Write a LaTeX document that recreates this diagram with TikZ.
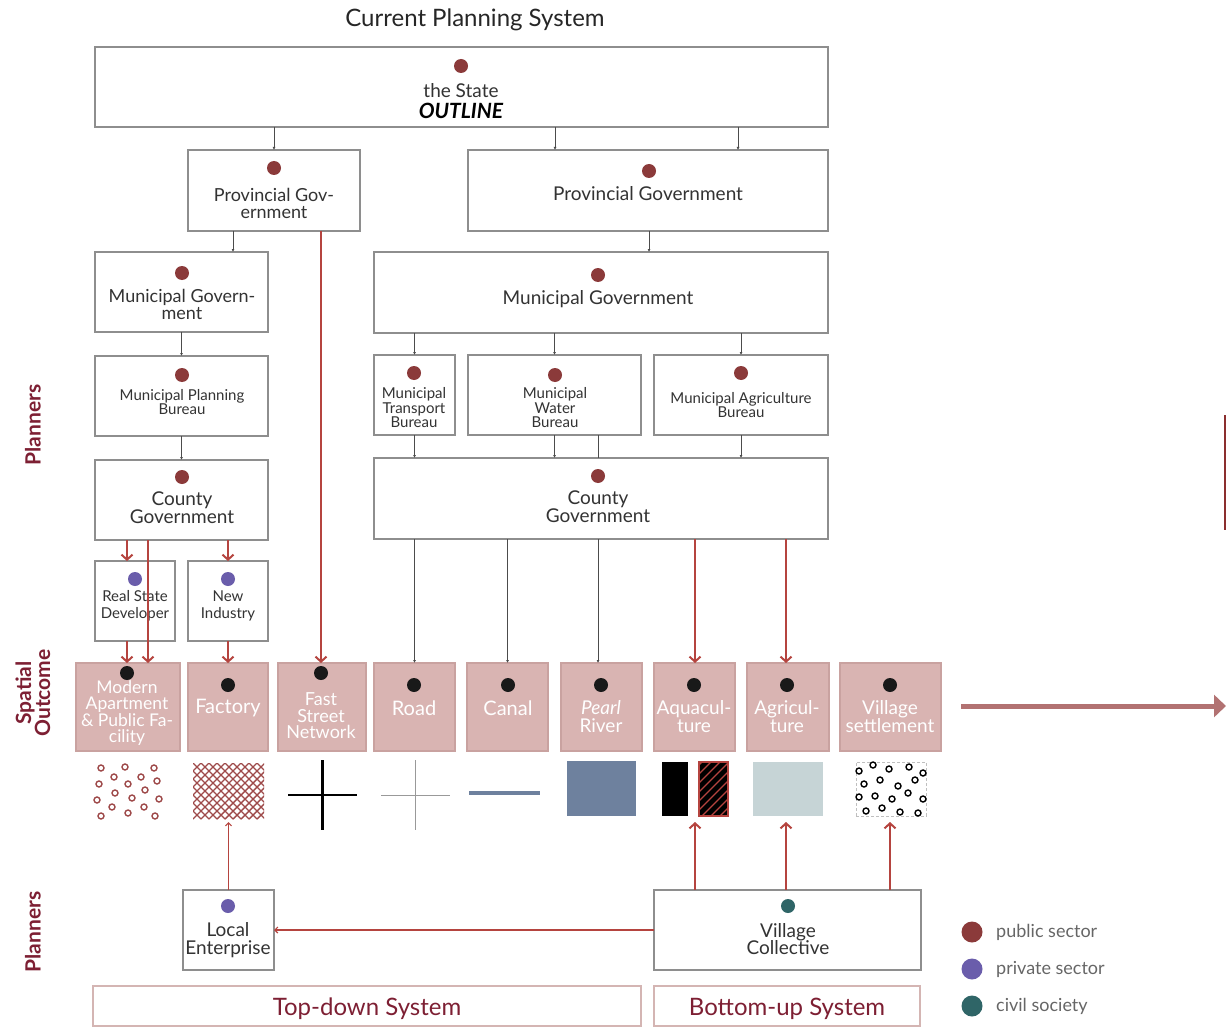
\documentclass[tikz,border=0pt]{standalone}
\usepackage{fontspec}
\setmainfont{Lato}
\usetikzlibrary{arrows.meta}
\definecolor{pubred}{HTML}{8B3A3A}
\definecolor{privpur}{HTML}{6A5DAB}
\definecolor{civteal}{HTML}{2F6567}
\definecolor{arrred}{HTML}{B5443F}
\definecolor{pinkfill}{HTML}{D9B4B2}
\definecolor{pinkdraw}{HTML}{C9A2A0}
\definecolor{boxgray}{HTML}{8E8E8E}
\definecolor{txtgray}{HTML}{333333}
\definecolor{lblred}{HTML}{7D1F33}
\definecolor{legtxt}{HTML}{666666}
\definecolor{riverblue}{HTML}{6E819E}
\definecolor{agrigray}{HTML}{C6D4D6}
\definecolor{bigarrow}{HTML}{B27272}
\definecolor{crossred}{HTML}{9E4A4A}
\definecolor{darkline}{HTML}{8B2E2E}
\newcommand{\fs}[2]{\fontsize{#1}{#2}\selectfont}
\newcommand{\mkbox}[6]{\node[#6, minimum width={(#4-#2)*1pt}, minimum height={(#5-#3)*1pt}] (#1) at ({(#2+#4)/2},{(#3+#5)/2}) {};}
\tikzset{
 box/.style={draw=boxgray, line width=1.1pt, fill=white, inner sep=0pt, outer sep=0pt},
 pinkbox/.style={draw=pinkdraw, line width=1.1pt, fill=pinkfill, inner sep=0pt, outer sep=0pt},
 sysbox/.style={draw=pinkdraw!80, line width=1.1pt, inner sep=0pt, outer sep=0pt},
 area/.style={inner sep=0pt, outer sep=0pt},
 txt/.style={text=txtgray, align=center, inner sep=0pt},
 wtxt/.style={text=white, align=center, inner sep=0pt},
 dot/.style={circle, inner sep=0pt, minimum size=14pt},
 legdot/.style={circle, inner sep=0pt, minimum size=21pt},
 garrow/.style={draw=black!70, line width=0.8pt, -{Latex[length=3pt,width=3pt]}},
 gline/.style={draw=black!70, line width=0.8pt},
 rarrow/.style={draw=arrred, line width=2.2pt, -{Straight Barb[length=5pt,width=11pt,line width=2pt]}},
 rthin/.style={draw=arrred, line width=1.3pt, -{Straight Barb[length=3pt,width=6pt,line width=1.2pt]}},
 sidelbl/.style={rotate=90, text=lblred, align=center, inner sep=0pt, font=\bfseries\fs{21}{19}},
}
\begin{document}
\begin{tikzpicture}[x=1pt,y=-1pt]
\useasboundingbox (0,0) rectangle (1226,1027);
% title
\node[text=black!85, inner sep=0pt, font=\fs{24}{26}] (title) at (475,20) {Current Planning System};
% boxes
\mkbox{state}{95}{47}{828}{127}{box}
\mkbox{provL}{188}{150}{360}{231}{box}
\mkbox{provR}{468}{150}{828}{231}{box}
\mkbox{munL}{95}{252}{268}{332}{box}
\mkbox{munR}{374}{252}{828}{333}{box}
\mkbox{mpb}{95}{356}{268}{436}{box}
\mkbox{mtb}{374}{355}{455}{435}{box}
\mkbox{mwb}{468}{355}{641}{435}{box}
\mkbox{mab}{654}{355}{828}{435}{box}
\mkbox{cntL}{95}{460}{268}{540}{box}
\mkbox{cntR}{374}{458}{828}{539}{box}
\mkbox{rsd}{95}{561}{175}{641}{box}
\mkbox{nin}{188}{561}{268}{641}{box}
\mkbox{modern}{76}{663}{180}{751}{pinkbox}
\mkbox{factory}{188}{663}{268}{751}{pinkbox}
\mkbox{fast}{278}{663}{366}{751}{pinkbox}
\mkbox{road}{374}{663}{455}{751}{pinkbox}
\mkbox{canal}{467}{663}{548}{751}{pinkbox}
\mkbox{pearl}{561}{663}{642}{751}{pinkbox}
\mkbox{aqua}{654}{663}{735}{751}{pinkbox}
\mkbox{agri}{747}{663}{829}{751}{pinkbox}
\mkbox{village}{840}{663}{941}{751}{pinkbox}
\mkbox{le}{183}{890}{274}{970}{box}
\mkbox{vc}{654}{890}{921}{970}{box}
\mkbox{topdown}{93}{986}{641}{1026}{sysbox}
\mkbox{bottomup}{654}{986}{920}{1026}{sysbox}
% pattern areas
\mkbox{modPat}{95}{762}{165}{820}{area}
\mkbox{facPat}{193}{763}{264}{819}{area}
\mkbox{fastPat}{288}{760}{357}{830}{area}
\mkbox{roadPat}{381}{760}{450}{830}{area}
\mkbox{canalPat}{469}{791}{540}{795}{area}
\mkbox{pearlPat}{567}{761}{636}{816}{area, fill=riverblue}
\mkbox{aquaPat}{662}{762}{728}{816}{area}
\mkbox{agriPat}{753}{762}{823}{816}{area, fill=agrigray}
\mkbox{villPat}{856}{762}{926}{816}{area, draw=black!25, densely dashed, line width=0.5pt}
% dots
\node[dot, fill=pubred] (stateDot) at (461,66) {};
\node[dot, fill=pubred] (provLDot) at (274,168) {};
\node[dot, fill=pubred] (provRDot) at (649,171) {};
\node[dot, fill=pubred] (munLDot) at (182,273) {};
\node[dot, fill=pubred] (munRDot) at (598,275) {};
\node[dot, fill=pubred] (mpbDot) at (182,375) {};
\node[dot, fill=pubred] (mtbDot) at (414,373) {};
\node[dot, fill=pubred] (mwbDot) at (555,375) {};
\node[dot, fill=pubred] (mabDot) at (741,373) {};
\node[dot, fill=pubred] (cntLDot) at (182,477) {};
\node[dot, fill=pubred] (cntRDot) at (598,476) {};
\node[dot, fill=privpur] (rsdDot) at (135,579) {};
\node[dot, fill=privpur] (ninDot) at (228,579) {};
\node[dot, fill=privpur] (leDot) at (228,906) {};
\node[dot, fill=civteal] (vcDot) at (788,906) {};
\node[dot, fill=black!90] (modernDot) at (127,673) {};
\node[dot, fill=black!90] (factoryDot) at (228,685) {};
\node[dot, fill=black!90] (fastDot) at (321,673) {};
\node[dot, fill=black!90] (roadDot) at (414,685) {};
\node[dot, fill=black!90] (canalDot) at (508,685) {};
\node[dot, fill=black!90] (pearlDot) at (601,685) {};
\node[dot, fill=black!90] (aquaDot) at (694,685) {};
\node[dot, fill=black!90] (agriDot) at (787,685) {};
\node[dot, fill=black!90] (villageDot) at (890,685) {};
% texts
\node[txt, font=\fs{20}{21}] (stateTxt) at (461,101) {{\fs{19}{21}the State}\\{\fs{21}{21}\bfseries\itshape\color{black} OUTLINE}};
\node[txt, font=\fs{18}{17}] (provLTxt) at (274,203) {Provincial Gov-\\ernment};
\node[txt, font=\fs{19}{15}] (provRTxt) at (648,194) {Provincial Government};
\node[txt, font=\fs{18}{17}] (munLTxt) at (182,304) {Municipal Govern-\\ment};
\node[txt, font=\fs{19}{15}] (munRTxt) at (598,299) {Municipal Government};
\node[txt, font=\fs{15}{14.5}] (mpbTxt) at (182,402) {Municipal Planning\\Bureau};
\node[txt, font=\fs{15}{14.5}] (mtbTxt) at (414,408) {Municipal\\Transport\\Bureau};
\node[txt, font=\fs{15}{14.5}] (mwbTxt) at (555,408) {Municipal\\Water\\Bureau};
\node[txt, font=\fs{15}{14.5}] (mabTxt) at (741,405) {Municipal Agriculture\\Bureau};
\node[txt, font=\fs{19}{18}] (cntLTxt) at (182,508) {County\\Government};
\node[txt, font=\fs{19}{18}] (cntRTxt) at (598,507) {County\\Government};
\node[txt, font=\fs{15}{17}] (rsdTxt) at (135,606) {Real State\\Developer};
\node[txt, font=\fs{15}{17}] (ninTxt) at (228,606) {New\\Industry};
\node[wtxt, font=\fs{17.5}{16.5}] (modernTxt) at (127,713) {Modern\\Apartment\\\& Public Fa-\\cility};
\node[wtxt, font=\fs{20}{17}] (factoryTxt) at (228,708) {Factory};
\node[wtxt, font=\fs{18}{16.5}] (fastTxt) at (321,716) {Fast\\Street\\Network};
\node[wtxt, font=\fs{20}{17}] (roadTxt) at (414,708) {Road};
\node[wtxt, font=\fs{20}{17}] (canalTxt) at (508,708) {Canal};
\node[wtxt, font=\fs{19}{18}] (pearlTxt) at (601,717) {\textit{Pearl}\\River};
\node[wtxt, font=\fs{19}{18}] (aquaTxt) at (694,717) {Aquacul-\\ture};
\node[wtxt, font=\fs{19}{18}] (agriTxt) at (787,717) {Agricul-\\ture};
\node[wtxt, font=\fs{19}{18}] (villageTxt) at (890,717) {Village\\settlement};
\node[txt, font=\fs{19}{18}] (leTxt) at (228,940) {Local\\Enterprise};
\node[txt, font=\fs{19}{17.5}] (vcTxt) at (788,939) {Village\\Collective};
\node[text=lblred, inner sep=0pt, font=\fs{24}{26}] (topdownTxt) at (367,1009) {Top-down System};
\node[text=lblred, inner sep=0pt, font=\fs{24}{26}] (bottomupTxt) at (787,1009) {Bottom-up System};
% side labels
\node[sidelbl] (plannersTop) at (33,425) {Planners};
\node[sidelbl] (spatialLbl) at (33,693) {Spatial\\Outcome};
\node[sidelbl] (plannersBot) at (33,932) {Planners};
% legend
\node[legdot, fill=pubred] (legPubDot) at (972,932) {};
\node[legdot, fill=privpur] (legPrivDot) at (972,969) {};
\node[legdot, fill=civteal] (legCivDot) at (972,1006) {};
\node[anchor=west, text=legtxt, inner sep=0pt, font=\fs{18}{20}] (legPub) at (996,932) {public sector};
\node[anchor=west, text=legtxt, inner sep=0pt, font=\fs{18}{20}] (legPriv) at (996,969) {private sector};
\node[anchor=west, text=legtxt, inner sep=0pt, font=\fs{18}{20}] (legCiv) at (996,1006) {civil society};
% gray connectors
\draw[garrow] (state.south -| provL.north) -- (provL.north);
\draw[garrow] (state.south -| 555,0) -- (provR.north -| 555,0);
\draw[garrow] (state.south -| 738,0) -- (provR.north -| 738,0);
\draw[garrow] (provL.south -| 233,0) -- (munL.north -| 233,0);
\draw[garrow] (provR.south -| 649,0) -- (munR.north -| 649,0);
\draw[garrow] (munL.south) -- (mpb.north);
\draw[garrow] (munR.south -| mtb.north) -- (mtb.north);
\draw[garrow] (munR.south -| mwb.north) -- (mwb.north);
\draw[garrow] (munR.south -| mab.north) -- (mab.north);
\draw[garrow] (mpb.south) -- (cntL.north);
\draw[garrow] (mtb.south) -- (cntR.north -| mtb.south);
\draw[garrow] (mwb.south) -- (cntR.north -| mwb.south);
\draw[gline] (mwb.south -| 598,0) -- (cntR.north -| 598,0);
\draw[garrow] (mab.south) -- (cntR.north -| mab.south);
\draw[garrow] (cntR.south -| road.north) -- (road.north);
\draw[garrow] (cntR.south -| canal.north) -- (canal.north);
\draw[garrow] (cntR.south -| 598,0) -- (pearl.north -| 598,0);
% red connectors
\draw[rarrow] (cntL.south -| 127,0) -- (rsd.north -| 127,0);
\draw[rarrow] (cntL.south -| 228,0) -- (nin.north -| 228,0);
\draw[rarrow] (cntL.south -| 148,0) -- (modern.north -| 148,0);
\draw[rarrow] (rsd.south -| 127,0) -- (modern.north -| 127,0);
\draw[rarrow] (nin.south -| 228,0) -- (factory.north -| 228,0);
\draw[rarrow] (provL.south -| 321,0) -- (fast.north -| 321,0);
\draw[rarrow] (cntR.south -| 695,0) -- (aqua.north -| 695,0);
\draw[rarrow] (cntR.south -| 786,0) -- (agri.north -| 786,0);
\draw[rarrow, shorten >=6pt] (vc.north -| aquaPat.south) -- (aquaPat.south);
\draw[rarrow, shorten >=6pt] (vc.north -| 786,0) -- (agriPat.south -| 786,0);
\draw[rarrow, shorten >=6pt] (vc.north -| 890,0) -- (villPat.south -| 890,0);
\draw[rthin, shorten >=3pt] (le.north) -- (facPat.south -| le.north);
\draw[rthin] (vc.west |- 0,930) -- (le.east |- 0,930);
% big right arrow and edge line
\coordinate (bigStart) at (961,706);
\coordinate (bigEnd) at (1226,706);
\draw[bigarrow, line width=5pt, -{Triangle[length=12pt,width=22pt]}] (bigStart) -- (bigEnd);
\coordinate (edgeTop) at (1225,415);
\coordinate (edgeBot) at (1225,530);
\draw[darkline, line width=2.5pt] (edgeTop) -- (edgeBot);
% patterns
\foreach \p in {(101,768),(125,767),(154,768),(114,777),(141,777),(99,784),(128,784),(157,781),(115,793),(145,790),(97,800),(132,798),(159,799),(112,807),(144,807),(101,816),(128,813),(155,816)}
  \draw[crossred, line width=1.4pt] \p circle[radius=3pt];
\begin{scope}
\clip (facPat.north west) rectangle (facPat.south east);
\foreach \i in {-64,-56,...,72} {
  \draw[crossred, line width=1.4pt] ({193+\i},763) -- ({193+\i+56},819);
  \draw[crossred, line width=1.4pt] ({193+\i},819) -- ({193+\i+56},763);
}
\end{scope}
\draw[black, line width=2.6pt] (fastPat.west) -- (fastPat.east);
\draw[black, line width=2.6pt] (fastPat.north) -- (fastPat.south);
\draw[black!40, line width=1pt] (roadPat.west) -- (roadPat.east);
\draw[black!40, line width=1pt] (roadPat.north) -- (roadPat.south);
\draw[riverblue, line width=4pt] (canalPat.west) -- (canalPat.east);
\fill[black] (aquaPat.north west) rectangle (688,816);
\begin{scope}
\clip (699,762) rectangle (728,816);
\fill[black] (699,762) rectangle (728,816);
\foreach \i in {-60,-51,...,40}
  \draw[arrred, line width=1.3pt] ({699+\i},816) -- ({699+\i+54},762);
\end{scope}
\draw[arrred, line width=1.5pt] (699,762) rectangle (728,816);
\foreach \p in {(859,771),(873,765),(889,769),(909,767),(923,773),(864,784),(880,780),(898,786),(915,780),(859,797),(875,796),(892,799),(908,793),(923,799),(866,811),(882,808),(900,812),(918,813)}
  \draw[black, fill=white, line width=1.4pt] \p circle[radius=3pt];
\end{tikzpicture}
\end{document}
